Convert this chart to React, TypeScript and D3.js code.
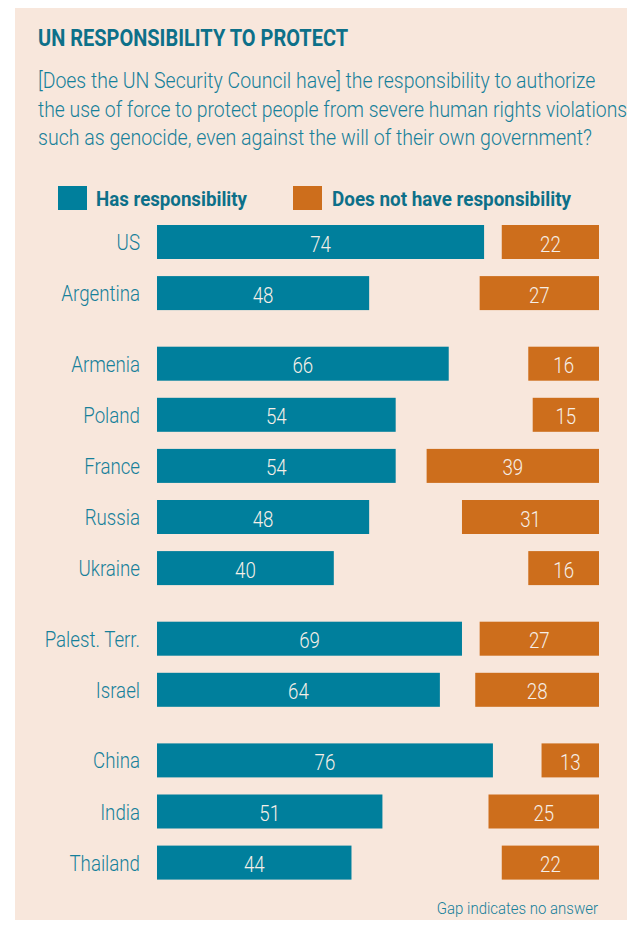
import React, { useLayoutEffect, useRef, useState } from 'react';
import * as d3 from 'd3';

const countries = ['US', 'Argentina', 'Armenia', 'Poland', 'France', 'Russia', 'Ukraine', 'Palest. Terr.', 'Israel', 'China', 'India', 'Thailand'];
const groups = [0, 0, 1, 1, 1, 1, 1, 2, 2, 3, 3, 3];
const hasResp = [74, 48, 66, 54, 54, 48, 40, 69, 64, 76, 51, 44];
const notResp = [22, 27, 16, 15, 39, 31, 16, 27, 28, 13, 25, 22];

const subtitleLines = [
  '[Does the UN Security Council have] the responsibility to authorize',
  'the use of force to protect people from severe human rights violations',
  'such as genocide, even against the will of their own government?',
];
const subtitleWidths = [557, 589, 554];

const TEAL = '#007f9c';
const ORANGE = '#cd6e1c';
const BG = '#f8e7dc';
const TEXT = '#16809a';
const TITLE = '#0d7089';
const FONT = "Roboto, 'Noto Sans', sans-serif";
const NARROW = 0.85;

const W = 635;
const H = 928;

// text squeezed horizontally to a target width (the original uses a condensed face)
function FitText({ x, y, width, anchor = 'start', children, ...rest }: any) {
  const ref = useRef<SVGTextElement>(null);
  const [s, setS] = useState(NARROW);
  useLayoutEffect(() => {
    if (!ref.current) return;
    const natural = ref.current.getComputedTextLength();
    if (natural > 0) setS(width / natural);
  }, [width, children]);
  return (
    <text ref={ref} transform={`translate(${x},${y}) scale(${s},1)`} textAnchor={anchor} {...rest}>
      {children}
    </text>
  );
}

function Narrow({ x, y, children, ...rest }: any) {
  return (
    <text transform={`translate(${x},${y}) scale(${NARROW},1)`} {...rest}>
      {children}
    </text>
  );
}

export default function App() {
  const x = d3.scaleLinear().domain([0, 100]).range([157, 599]);
  const barH = 34;
  const step = 51.1;
  const groupGap = 19.5;
  const rowTop = (i: number) => 225 + i * step + groups[i] * groupGap;

  return (
    <svg width={W} height={H} style={{ display: 'block', margin: -8 }} fontFamily={FONT}>
      <rect x={15} y={8} width={W - 15} height={H - 8} fill={BG} />

      <FitText x={38} y={46} width={310} fill={TITLE} fontSize={23} fontWeight="bold">
        UN RESPONSIBILITY TO PROTECT
      </FitText>
      {subtitleLines.map((t, i) => (
        <FitText key={i} x={38} y={88 + i * 28.6} width={subtitleWidths[i]} fill={TEXT} fontSize={21.5} fontWeight={300}>
          {t}
        </FitText>
      ))}

      {/* legend */}
      <rect x={58} y={186} width={29} height={24} fill={TEAL} />
      <FitText x={96} y={206} width={151} fill={TITLE} fontSize={19.5} fontWeight="bold">
        Has responsibility
      </FitText>
      <rect x={293} y={186} width={29} height={24} fill={ORANGE} />
      <FitText x={332} y={206} width={239} fill={TITLE} fontSize={19.5} fontWeight="bold">
        Does not have responsibility
      </FitText>

      {countries.map((c, i) => {
        const top = rowTop(i);
        const cy = top + barH / 2;
        const x0 = x(0);
        const x1 = x(hasResp[i]);
        const o0 = x(100 - notResp[i]);
        const o1 = x(100);
        return (
          <g key={c}>
            <Narrow x={140} y={cy + 8} textAnchor="end" fill={TEXT} fontSize={22} fontWeight={300}>
              {c}
            </Narrow>
            <rect x={x0} y={top} width={x1 - x0} height={barH} fill={TEAL} />
            <rect x={o0} y={top} width={o1 - o0} height={barH} fill={ORANGE} />
            <Narrow x={(x0 + x1) / 2} y={cy + 9.5} textAnchor="middle" fill="#f6efe8" fontSize={22} fontWeight={300}>
              {hasResp[i]}
            </Narrow>
            <Narrow x={(o0 + o1) / 2} y={cy + 9.5} textAnchor="middle" fill="#f6efe8" fontSize={22} fontWeight={300}>
              {notResp[i]}
            </Narrow>
          </g>
        );
      })}

      <FitText x={598} y={914} width={161} anchor="end" fill={TEXT} fontSize={16.5} fontWeight={300}>
        Gap indicates no answer
      </FitText>
    </svg>
  );
}
